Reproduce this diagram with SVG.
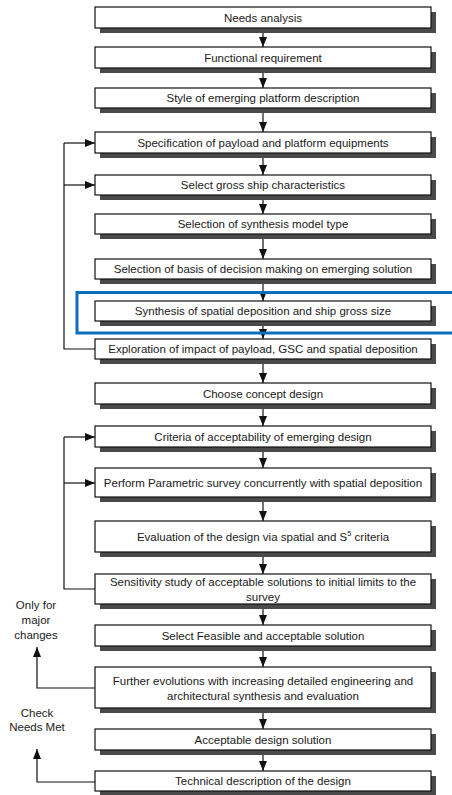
<svg xmlns="http://www.w3.org/2000/svg" width="452" height="795" viewBox="0 0 452 795">
  <style>
    .sh { fill: #4a4a4a; }
    .box { fill: #ffffff; stroke: #111111; stroke-width: 1.2; }
    .t { font-family: "Liberation Sans", Arial, sans-serif; font-size: 11.5px; fill: #1a1a1a; text-anchor: middle; dominant-baseline: central; }
    .c { fill: none; stroke: #111111; stroke-width: 1.2; }
    .arr { marker-end: url(#ah); }
  </style>
  <defs>
    <marker id="ah" markerUnits="userSpaceOnUse" markerWidth="10" markerHeight="8" refX="10" refY="4" orient="auto">
      <path d="M0,0 L10,4 L0,8 z" fill="#111111"/>
    </marker>
  </defs>

  <rect width="452" height="795" fill="#ffffff"/>

  <!-- connectors -->
  <g id="connectors">
    <!-- main chain -->
    <line class="c arr" x1="263" y1="28" x2="263" y2="47"/>
    <line class="c arr" x1="263" y1="68" x2="263" y2="88"/>
    <line class="c arr" x1="263" y1="108" x2="263" y2="132"/>
    <line class="c arr" x1="263" y1="153" x2="263" y2="175"/>
    <line class="c arr" x1="263" y1="195" x2="263" y2="214"/>
    <line class="c arr" x1="263" y1="234" x2="263" y2="259"/>
    <line class="c arr" x1="263" y1="279" x2="263" y2="301"/>
    <line class="c arr" x1="263" y1="321" x2="263" y2="339"/>
    <line class="c arr" x1="263" y1="359" x2="263" y2="383"/>
    <line class="c arr" x1="263" y1="404" x2="263" y2="426"/>
    <line class="c arr" x1="263" y1="447" x2="263" y2="468"/>
    <line class="c arr" x1="263" y1="497" x2="263" y2="521"/>
    <line class="c arr" x1="263" y1="552" x2="263" y2="574"/>
    <line class="c arr" x1="263" y1="604" x2="263" y2="625"/>
    <line class="c arr" x1="263" y1="646" x2="263" y2="667"/>
    <line class="c arr" x1="263" y1="708" x2="263" y2="729"/>
    <line class="c arr" x1="263" y1="750" x2="263" y2="771"/>

    <!-- first feedback loop -->
    <polyline class="c" points="95,349 64,349 64,143"/>
    <line class="c arr" x1="64" y1="143" x2="95" y2="143"/>
    <line class="c arr" x1="64" y1="185" x2="95" y2="185"/>

    <!-- second feedback loop -->
    <polyline class="c" points="95,589 64,589 64,437"/>
    <line class="c arr" x1="64" y1="437" x2="95" y2="437"/>
    <line class="c arr" x1="64" y1="483" x2="95" y2="483"/>

    <!-- escape paths -->
    <polyline class="c arr" points="95,688 37,688 37,647"/>
    <polyline class="c arr" points="95,782 37,782 37,749"/>
  </g>

  <!-- nodes -->
  <g id="n1"><rect class="sh" x="100" y="12" width="336" height="21"/><rect class="box" x="95" y="7" width="336" height="21"/><text class="t" x="263" y="17.5">Needs analysis</text></g>
  <g id="n2"><rect class="sh" x="100" y="52" width="336" height="21"/><rect class="box" x="95" y="47" width="336" height="21"/><text class="t" x="263" y="57.5">Functional requirement</text></g>
  <g id="n3"><rect class="sh" x="100" y="93" width="336" height="20"/><rect class="box" x="95" y="88" width="336" height="20"/><text class="t" x="263" y="98">Style of emerging platform description</text></g>
  <g id="n4"><rect class="sh" x="100" y="137" width="336" height="21"/><rect class="box" x="95" y="132" width="336" height="21"/><text class="t" x="263" y="142.5">Specification of payload and platform equipments</text></g>
  <g id="n5"><rect class="sh" x="100" y="180" width="336" height="20"/><rect class="box" x="95" y="175" width="336" height="20"/><text class="t" x="263" y="185">Select gross ship characteristics</text></g>
  <g id="n6"><rect class="sh" x="100" y="219" width="336" height="20"/><rect class="box" x="95" y="214" width="336" height="20"/><text class="t" x="263" y="224">Selection of synthesis model type</text></g>
  <g id="n7"><rect class="sh" x="100" y="264" width="336" height="20"/><rect class="box" x="95" y="259" width="336" height="20"/><text class="t" x="263" y="269">Selection of basis of decision making on emerging solution</text></g>
  <g id="n8"><rect class="sh" x="100" y="306" width="336" height="20"/><rect class="box" x="95" y="301" width="336" height="20"/><text class="t" x="263" y="311">Synthesis of spatial deposition and ship gross size</text></g>
  <g id="n9"><rect class="sh" x="100" y="344" width="336" height="20"/><rect class="box" x="95" y="339" width="336" height="20"/><text class="t" x="263" y="349">Exploration of impact of payload, GSC and spatial deposition</text></g>
  <g id="n10"><rect class="sh" x="100" y="388" width="336" height="21"/><rect class="box" x="95" y="383" width="336" height="21"/><text class="t" x="263" y="393.5">Choose concept design</text></g>
  <g id="n11"><rect class="sh" x="100" y="431" width="336" height="21"/><rect class="box" x="95" y="426" width="336" height="21"/><text class="t" x="263" y="436.5">Criteria of acceptability of emerging design</text></g>
  <g id="n12"><rect class="sh" x="100" y="473" width="336" height="29"/><rect class="box" x="95" y="468" width="336" height="29"/><text class="t" x="263" y="482.5">Perform Parametric survey concurrently with spatial deposition</text></g>
  <g id="n13"><rect class="sh" x="100" y="526" width="336" height="31"/><rect class="box" x="95" y="521" width="336" height="31"/><text class="t" x="263" y="536.5">Evaluation of the design via spatial and S<tspan font-size="7.5" dy="-4">5</tspan><tspan dy="4"> criteria</tspan></text></g>
  <g id="n14"><rect class="sh" x="100" y="579" width="336" height="30"/><rect class="box" x="95" y="574" width="336" height="30"/><text class="t" x="263" y="582">Sensitivity study of acceptable solutions to initial limits to the</text><text class="t" x="263" y="597">survey</text></g>
  <g id="n15"><rect class="sh" x="100" y="630" width="336" height="21"/><rect class="box" x="95" y="625" width="336" height="21"/><text class="t" x="263" y="635.5">Select Feasible and acceptable solution</text></g>
  <g id="n16"><rect class="sh" x="100" y="672" width="336" height="41"/><rect class="box" x="95" y="667" width="336" height="41"/><text class="t" x="263" y="681">Further evolutions with increasing detailed engineering and</text><text class="t" x="263" y="696">architectural synthesis and evaluation</text></g>
  <g id="n17"><rect class="sh" x="100" y="734" width="336" height="21"/><rect class="box" x="95" y="729" width="336" height="21"/><text class="t" x="263" y="739.5">Acceptable design solution</text></g>
  <g id="n18"><rect class="sh" x="100" y="776" width="336" height="20"/><rect class="box" x="95" y="771" width="336" height="20"/><text class="t" x="263" y="781">Technical description of the design</text></g>

  <!-- side notes -->
  <g id="note-major">
    <text class="t" x="36" y="605">Only for</text>
    <text class="t" x="36" y="620">major</text>
    <text class="t" x="36" y="635">changes</text>
  </g>
  <g id="note-needs">
    <text class="t" x="37" y="713">Check</text>
    <text class="t" x="37" y="727">Needs Met</text>
  </g>

  <!-- highlight frame -->
  <rect id="highlight" x="77" y="292.5" width="400" height="40.5" fill="none" stroke="#0b6dbd" stroke-width="3"/>
</svg>
